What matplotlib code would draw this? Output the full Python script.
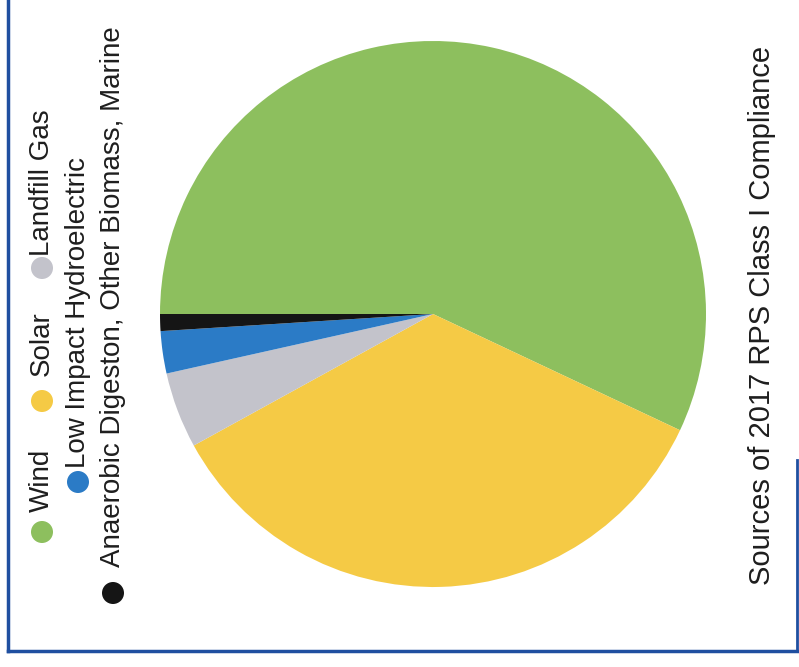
import matplotlib.pyplot as plt
from matplotlib.patches import Circle

plt.rcParams['font.family'] = ['Liberation Sans', 'DejaVu Sans']

# Data (shares of 2017 RPS Class I compliance)
sources = ['Wind', 'Solar', 'Landfill Gas', 'Low Impact Hydroelectric',
           'Anaerobic Digeston, Other Biomass, Marine']
shares = [57.0, 35.0, 4.5, 2.5, 1.0]
colors = ['#8dbf5e', '#f5ca45', '#c3c3cb', '#2b7bc6', '#151515']
title = 'Sources of 2017 RPS Class I Compliance'

W, H = 799, 667
fig = plt.figure(figsize=(W / 100, H / 100), dpi=100)

# background axes in pixel coordinates (y down, like the scan)
bg = fig.add_axes([0, 0, 1, 1])
bg.set_xlim(0, W)
bg.set_ylim(H, 0)
bg.axis('off')

# frame lines
frame = '#1f4fa0'
bg.plot([8, 8], [0, 651], color=frame, lw=2.5)
bg.plot([8, 797], [651, 651], color=frame, lw=2.5)
bg.plot([797, 797], [460, 651], color=frame, lw=2)

# pie (the whole chart is turned 90 degrees)
cx, cy, r = 433, 314, 273
pax = fig.add_axes([(cx - r) / W, (H - cy - r) / H, 2 * r / W, 2 * r / H])
pax.pie(shares, colors=colors, startangle=180, counterclock=False,
        wedgeprops=dict(linewidth=0))
pax.set_xlim(-1, 1)
pax.set_ylim(-1, 1)

# legend, rotated
txt = '#1e1e1e'
fs = 20
legend_pos = [
    (42, 532, 512),   # Wind
    (42, 401, 376),   # Solar
    (42, 268, 256),   # Landfill Gas
    (78, 482, 468),   # Low Impact Hydroelectric
    (113, 593, 567),  # Anaerobic ...
]
for (x, yd, yt), name, c in zip(legend_pos, sources, colors):
    bg.add_patch(Circle((x, yd), 11, color=c, lw=0))
    bg.text(x, yt, name, rotation=90, rotation_mode='anchor',
            ha='left', va='center', fontsize=fs, color=txt)

# title, rotated
bg.text(762, 585, title, rotation=90, rotation_mode='anchor',
        ha='left', va='center', fontsize=21, color=txt)

plt.savefig('out.png', dpi=100)
